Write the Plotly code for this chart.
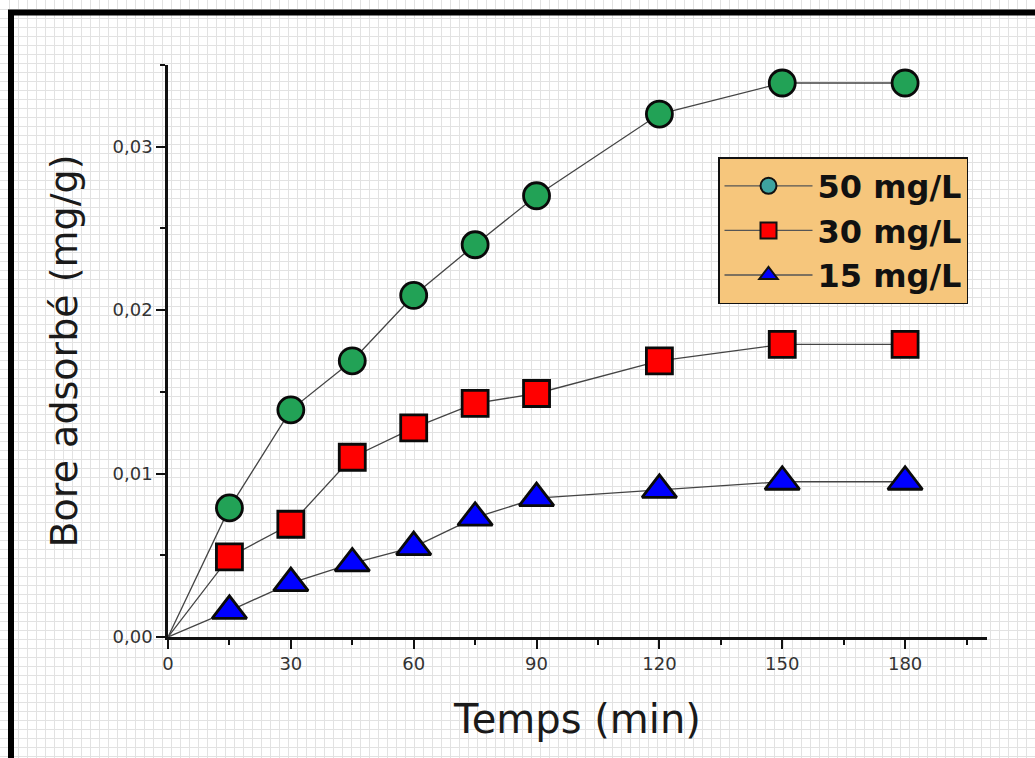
import plotly.graph_objects as go

# ---- data ----
time_min = [0, 15, 30, 45, 60, 75, 90, 120, 150, 180]
q_50 = [0, 0.0079, 0.0139, 0.0169, 0.0209, 0.0240, 0.0270, 0.0320, 0.0339, 0.0339]
q_30 = [0, 0.0049, 0.0069, 0.0110, 0.0128, 0.0143, 0.0149, 0.0169, 0.0179, 0.0179]
q_15 = [0, 0.0016, 0.0033, 0.0045, 0.0055, 0.0073, 0.0085, 0.0090, 0.0095, 0.0095]
series_names = ["50 mg/L", "30 mg/L", "15 mg/L"]

W, H = 1035, 758
FONT = "DejaVu Sans"

fig = go.Figure()

# invisible trace to anchor the background-texture axes (pixel space)
fig.add_trace(go.Scatter(x=[], y=[], xaxis="x", yaxis="y", showlegend=False, hoverinfo="skip"))

styles = [
    dict(symbol="circle", color="#22a256", size=26, legend_color="#3ea3a0"),
    dict(symbol="square", color="#ff0000", size=26, legend_color="#ff0000"),
    dict(symbol="triangle-up", color="#0000ff", size=30, legend_color="#0000ff"),
]
series = [q_50, q_30, q_15]

for name, vals, st in zip(series_names, series, styles):
    n = len(vals)
    sizes = [0] + [st["size"]] * (n - 1)
    lw = [0] + [2.8] * (n - 1)
    fig.add_trace(go.Scatter(
        x=time_min, y=vals, xaxis="x2", yaxis="y2",
        mode="lines+markers", showlegend=False,
        line=dict(color="#444444", width=1.3),
        marker=dict(symbol=st["symbol"], color=st["color"], size=sizes, opacity=1,
                    line=dict(color="#0a0a0a", width=lw)),
        cliponaxis=False,
    ))

# legend entries
for name, st in zip(series_names, styles):
    fig.add_trace(go.Scatter(
        x=[None], y=[None], xaxis="x2", yaxis="y2",
        mode="lines+markers", name=name,
        line=dict(color="#555555", width=1.3),
        marker=dict(symbol=st["symbol"], color=st["legend_color"], size=16, opacity=1,
                    line=dict(color="#111111", width=2)),
    ))

fig.update_layout(
    width=W, height=H,
    margin=dict(l=0, r=0, t=0, b=0),
    paper_bgcolor="white",
    plot_bgcolor="rgba(0,0,0,0)",
    separators=", ",
    font=dict(family=FONT, color="#222222"),
    showlegend=True,
    legend=dict(
        x=718 / W, y=1 - 157 / H, xanchor="left", yanchor="top",
        bgcolor="#f6c67c", bordercolor="#111111", borderwidth=1.5,
        font=dict(family=FONT, size=32, color="#111111", weight="bold"),
        itemwidth=88, tracegroupgap=0,
    ),
    # background texture axes covering whole figure, pixel coordinates
    xaxis=dict(domain=[0, 1], range=[0, W], showgrid=True, dtick=9, tick0=0,
               gridcolor="#e2e2e2", gridwidth=1, showticklabels=False,
               zeroline=False, showline=False, ticks="", fixedrange=True),
    yaxis=dict(domain=[0, 1], range=[H, 0], showgrid=True, dtick=9, tick0=0,
               gridcolor="#e2e2e2", gridwidth=1, showticklabels=False,
               zeroline=False, showline=False, ticks="", fixedrange=True),
    xaxis2=dict(
        domain=[168 / W, 987 / W], anchor="y2", range=[0, 200],
        tickmode="linear", tick0=0, dtick=30,
        ticks="outside", ticklen=9, tickwidth=2, tickcolor="#111111",
        minor=dict(ticks="outside", dtick=15, ticklen=5, tickwidth=2, tickcolor="#111111"),
        showline=True, linecolor="#111111", linewidth=2.5,
        showgrid=False, zeroline=False,
        tickfont=dict(family=FONT, size=18, color="#333333"),
        title=dict(text="Temps (min)", font=dict(family=FONT, size=40, color="#1a1a1a"), standoff=32),
        automargin=False,
    ),
    yaxis2=dict(
        domain=[1 - 637 / H, 1 - 65 / H], anchor="x2", range=[0, 0.035],
        tickmode="array", tickvals=[0, 0.01, 0.02, 0.03], tickformat=".2f",
        ticks="outside", ticklen=9, tickwidth=2, tickcolor="#111111",
        minor=dict(ticks="outside", dtick=0.005, ticklen=5, tickwidth=2, tickcolor="#111111"),
        showline=True, linecolor="#111111", linewidth=2.5,
        showgrid=False, zeroline=False,
        tickfont=dict(family=FONT, size=18, color="#333333"),
        title=dict(text="Bore adsorbé (mg/g)", font=dict(family=FONT, size=38, color="#1a1a1a"), standoff=24),
        automargin=False,
    ),
    shapes=[
        dict(type="rect", xref="paper", yref="paper",
             x0=11 / W, y0=1 - 12.5 / H, x1=1.05, y1=-0.05,
             line=dict(color="black", width=6), fillcolor="rgba(0,0,0,0)"),
    ],
)

fig.write_html("out.html")
